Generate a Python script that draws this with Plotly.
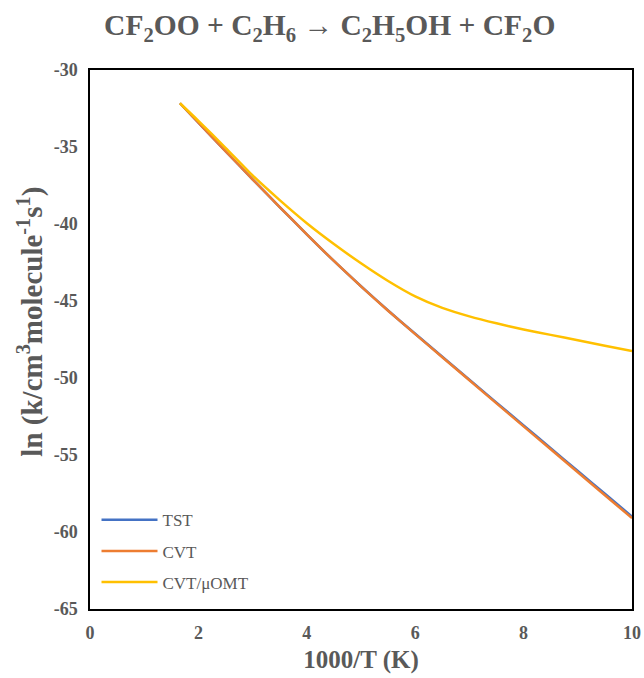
import plotly.graph_objects as go

x_vals = [1.66, 2.0, 2.5, 3.0, 3.5, 4.0, 4.5, 5.0, 5.5, 6.0, 6.5, 7.0, 7.5, 8.0, 8.5, 9.0, 9.5, 10.0]
tst = [-32.16, -33.42, -35.27, -37.10, -38.90, -40.67, -42.40, -44.04, -45.62, -47.13, -48.62, -50.11, -51.60, -53.08, -54.56, -56.04, -57.52, -59.00]
cvt = [-32.16, -33.42, -35.27, -37.10, -38.90, -40.67, -42.40, -44.05, -45.63, -47.15, -48.65, -50.15, -51.65, -53.14, -54.63, -56.12, -57.61, -59.10]
cvt_omt = [-32.16, -33.30, -35.05, -36.85, -38.45, -39.95, -41.30, -42.55, -43.70, -44.70, -45.45, -46.00, -46.45, -46.85, -47.20, -47.55, -47.90, -48.25]

series_names = ["TST", "CVT", "CVT/μOMT"]
series_colors = ["#4472C4", "#ED7D31", "#FFC000"]
series_data = [tst, cvt, cvt_omt]

x_ticks = [0, 2, 4, 6, 8, 10]
y_ticks = [-30, -35, -40, -45, -50, -55, -60, -65]

SERIF = "Liberation Serif"
GRAY = "#595959"

fig = go.Figure()
for i, (name, color, ys) in enumerate(zip(series_names, series_colors, series_data)):
    fig.add_trace(go.Scatter(
        x=x_vals, y=ys, name=name, mode="lines", legendgroup=f"g{i}",
        line=dict(color=color, width=2.5, shape="spline", smoothing=0.6),
    ))

fig.update_layout(
    width=644, height=678,
    margin=dict(l=90, r=12, t=70, b=69),
    paper_bgcolor="white", plot_bgcolor="white",
    font=dict(family=SERIF, color=GRAY),
    title=dict(
        text="<b>CF<sub>2</sub>OO + C<sub>2</sub>H<sub>6</sub> → C<sub>2</sub>H<sub>5</sub>OH + CF<sub>2</sub>O</b>",
        x=0.512, xanchor="center", y=0.963, yanchor="middle",
        font=dict(family=SERIF, size=29.5, color=GRAY),
    ),
    legend=dict(
        x=0.012, y=0.198, xanchor="left", yanchor="top",
        bgcolor="rgba(0,0,0,0)",
        font=dict(family=SERIF, size=17, color=GRAY),
        tracegroupgap=6, itemwidth=56,
    ),
    showlegend=True,
    annotations=[dict(
        text="<b>ln (k/cm<sup>3</sup>molecule<sup>-1</sup>s<sup>1</sup>)</b>",
        xref="paper", yref="paper", x=-0.109, y=0.533,
        xanchor="center", yanchor="middle", textangle=-90, showarrow=False,
        font=dict(family=SERIF, size=29, color=GRAY),
    )],
)

fig.update_xaxes(
    range=[0, 10], tickvals=x_ticks, ticktext=[f"<b>{v}</b>" for v in x_ticks],
    showgrid=False, zeroline=False, automargin=False,
    showline=True, linecolor="black", linewidth=1.5, mirror=True,
    ticks="", ticklabelstandoff=7,
    tickfont=dict(family=SERIF, size=18, color=GRAY),
    title=dict(text="<b>1000/T (K)</b>", standoff=8,
               font=dict(family=SERIF, size=25, color=GRAY)),
)
fig.update_yaxes(
    range=[-65, -30], tickvals=y_ticks, ticktext=[f"<b>{v}</b>" for v in y_ticks],
    showgrid=False, zeroline=False, automargin=False,
    showline=True, linecolor="black", linewidth=1.5, mirror=True,
    ticks="", ticklabelstandoff=7,
    tickfont=dict(family=SERIF, size=18, color=GRAY),
)

fig.write_html("out.html")
